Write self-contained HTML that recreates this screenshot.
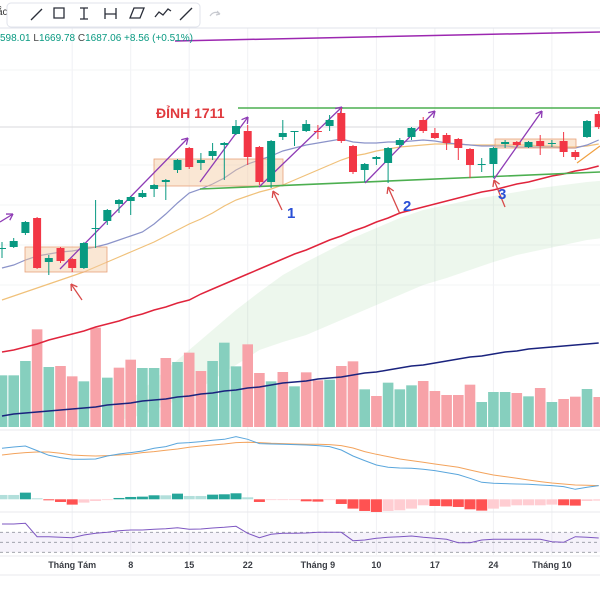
<!DOCTYPE html>
<html><head><meta charset="utf-8"><style>
html,body{margin:0;padding:0;background:#fff;width:600px;height:600px;overflow:hidden}
svg{display:block;font-family:"Liberation Sans",sans-serif}
</style></head><body>
<svg id="chart" width="600" height="600" viewBox="0 0 600 600">
<rect width="600" height="600" fill="#fff"/>
<g id="grid"></g>
<g id="cloud"></g>
<g id="vol"></g>
<g id="mas"></g>
<g id="draw"></g>
<g id="candles"></g>
<g id="macd"></g>
<g id="rsi"></g>
<g id="axis"></g>
<g id="top"></g>
</svg>
<script>
const opens =[1571,1572,1586,1601,1557,1571,1560,1551,1590,1598,1615,1618,1622,1630,1637,1649,1671,1656,1663,1674,1685,1688,1672,1637,1682,1687,1688,1688,1693,1706,1673,1649,1660,1656,1674,1682,1699,1686,1684,1680,1670,1655,1655,1675,1677,1672,1678,1676,1678,1667,1682,1705];
const highs =[1577,1581,1598,1602,1564,1572,1561,1577,1619,1610,1620,1623,1629,1635,1640,1660,1672,1666,1676,1677,1699,1694,1673,1679,1699,1688,1699,1694,1704,1711,1674,1656,1663,1672,1681,1692,1702,1691,1686,1681,1671,1661,1672,1679,1678,1678,1684,1679,1687,1669,1699,1708];
const lows  =[1561,1571,1584,1550,1544,1556,1547,1550,1571,1594,1606,1604,1621,1622,1619,1646,1650,1649,1659,1639,1684,1654,1634,1631,1679,1673,1687,1680,1688,1676,1645,1637,1654,1636,1672,1679,1686,1680,1669,1659,1641,1647,1641,1671,1672,1671,1664,1672,1662,1659,1681,1690];
const closes=[1571,1578,1597,1551,1561,1558,1551,1576,1591,1609,1619,1622,1626,1634,1639,1659,1652,1659,1668,1676,1693,1662,1637,1678,1686,1688,1695,1687,1699,1678,1647,1655,1662,1671,1679,1691,1688,1681,1676,1671,1654,1655,1671,1677,1674,1677,1673,1676,1667,1662,1698,1692];
const volumes=[1550,1550,1980,2930,1800,1830,1520,1370,2980,1480,1780,2020,1770,1770,2070,1950,2230,1680,1980,2530,1820,2480,1620,1370,1650,1220,1640,1400,1420,1830,1970,1130,930,1330,1130,1250,1380,1080,960,960,1270,750,1050,1050,1020,920,1170,750,840,910,1140,900];
const volDir=["u","u","u","d","u","d","d","u","d","u","d","d","u","u","d","u","d","d","u","u","u","d","d","u","d","u","d","d","u","d","d","u","d","u","u","u","d","d","d","d","d","u","u","u","d","u","d","u","d","d","u","d"];
const maFast=[1551,1554,1559,1563,1565,1567,1568,1570,1572,1575,1579,1583,1587,1595,1605,1616,1626,1630,1635,1641,1649,1655,1659,1663,1668,1671,1674,1676,1678,1680,1677,1676,1676,1677,1677,1678,1679,1678,1676,1675,1674,1673,1673,1673,1672,1672,1672,1672,1671,1671,1674,1679];
const maMid=[1519,1523,1527,1531,1535,1539,1543,1547,1552,1557,1562,1567,1572,1577,1583,1589,1595,1600,1606,1613,1619,1623,1627,1630,1634,1639,1644,1649,1654,1659,1663,1665,1668,1670,1672,1673,1674,1675,1675,1675,1674,1674,1674,1674,1674,1674,1673,1673,1672,1672,1673,1675];
const maSlow=[1467,1469,1472,1475,1479,1482,1485,1488,1492,1495,1498,1502,1505,1509,1512,1516,1519,1525,1530,1535,1540,1545,1550,1555,1560,1565,1569,1574,1579,1583,1588,1592,1597,1601,1606,1609,1612,1615,1618,1621,1624,1627,1629,1632,1635,1637,1640,1643,1645,1648,1650,1653];
const ma200=[1403,1405,1406,1407,1408,1409,1410,1411,1412,1414,1415,1416,1418,1419,1420,1422,1423,1425,1426,1428,1429,1431,1432,1434,1436,1437,1438,1440,1441,1442,1444,1446,1447,1449,1451,1453,1454,1456,1458,1460,1462,1463,1465,1467,1468,1470,1471,1472,1473,1474,1475,1476];
const cloudIdx=[10,12,14,16,18,20,22,24,26,28,30,32,34,36,38,40,42,44,46,48,50,52];
const spanA=[1409,1429,1449,1469,1489,1509,1527,1544,1557,1569,1581,1591,1601,1609,1614,1619,1623,1627,1631,1634,1637,1639];
const spanB=[1399,1404,1414,1424,1439,1454,1469,1477,1484,1494,1504,1514,1524,1534,1541,1549,1557,1564,1569,1574,1579,1582];
const macdLine=[15.3,15.7,16.0,14.6,13.2,12.5,12.0,12.0,12.1,13.0,13.6,14.0,14.5,15.3,15.8,16.8,17.0,17.3,17.7,18.0,18.8,18.0,16.7,16.6,16.5,16.4,16.3,16.1,15.8,14.8,13.0,11.6,10.3,9.6,9.4,9.3,9.0,8.6,8.0,7.4,6.3,5.1,4.8,4.7,4.6,4.5,4.3,4.1,3.8,3.0,3.6,4.1];
const signalLine=[13.3,13.7,14.0,14.2,14.2,13.8,13.3,13.1,13.0,13.1,13.3,13.5,14.0,14.3,14.7,15.1,15.6,16.0,16.3,16.6,17.0,17.1,17.0,16.8,16.7,16.6,16.5,16.5,16.4,16.1,15.4,14.3,13.5,12.8,12.1,11.6,11.1,10.6,10.1,9.6,8.8,8.0,7.3,6.8,6.3,5.8,5.3,4.9,4.6,4.3,4.2,4.1];
const histo=[1.3,1.3,2.0,0.3,-0.3,-0.8,-1.6,-1.0,-0.5,-0.2,0.4,0.7,0.8,1.2,1.2,1.7,1.0,1.0,1.4,1.5,1.8,0.6,-0.8,-0.2,-0.2,-0.2,-0.6,-0.7,-0.2,-1.4,-2.8,-3.5,-3.8,-3.5,-3.3,-2.8,-1.8,-2.0,-2.1,-2.3,-3.0,-3.4,-2.8,-2.2,-1.8,-1.8,-1.8,-1.6,-1.8,-1.9,-0.5,-0.4];
const rsiVals=[86.7,86.7,88,61.3,61.3,60,59.3,64.7,68,70,73.3,74.7,74.7,76,77.3,79.3,76,76.7,78.7,80,82,68,59.3,66,68,68,68.7,70,70,70,53.3,54.7,58,60,61.3,62.7,60,58,56,49.3,49.3,54.7,56,56,56,56,56,51.3,50,61.3,60,58.7];
const dateLabels=["Tháng Tám","8","15","22","Tháng 9","10","17","24","Tháng 10"];
const dateIdx=[6,11,16,21,27,32,37,42,47];
const rsiLevels=[70,50,30];

const NS="http://www.w3.org/2000/svg";
function mk(parent,tag,attrs,text){const e=document.createElementNS(NS,tag);for(const k in attrs)e.setAttribute(k,attrs[k]);if(text!==undefined)e.textContent=text;parent.appendChild(e);return e;}
const X=i=>2+11.7*i;
const Y=p=>1819-p;
const VY=v=>427-v/30;
const MY=v=>499.3-v*10/3;
const RY=r=>532.33-(r-70)*0.5;
const $=id=>document.getElementById(id);
const GREEN="#089981",RED="#f23645";

// grid
const grid=$("grid");
dateIdx.forEach(i=>{const l=mk(grid,"line",{x1:X(i),x2:X(i),y1:28,y2:555,stroke:"#f0f1f4","stroke-width":1});

});
[70,165,205,245,285].forEach(y=>{const l=mk(grid,"line",{x1:0,x2:600,y1:y,y2:y,stroke:"#f3f4f6"});

});
const pl=mk(grid,"line",{x1:0,x2:600,y1:127,y2:127,stroke:"#d9dadd"});


[430,512,556,575].forEach(y=>{const l=mk(grid,"line",{x1:0,x2:600,y1:y,y2:y,stroke:"#e8e9ec"});

});

// cloud
let pts=cloudIdx.map((i,k)=>X(i)+","+Y(spanA[k]));
for(let k=cloudIdx.length-1;k>=0;k--)pts.push(X(cloudIdx[k])+","+Y(spanB[k]));
const cl=mk($("cloud"),"polygon",{points:pts.join(" "),fill:"#4caf50","fill-opacity":0.1});



// volume
const vg=$("vol");
volumes.forEach((v,i)=>{const r=mk(vg,"rect",{x:X(i)-5.3,y:VY(v),width:10.6,height:427-VY(v),fill:volDir[i]==="u"?"#86cfbe":"#f7a2a8"});

});

// MAs
function line(g,arr,color,w,name,yf){const d=arr.map((v,i)=>(i?"L":"M")+X(i).toFixed(1)+","+yf(v).toFixed(1)).join("");const p=mk(g,"path",{d:d,fill:"none",stroke:color,"stroke-width":w});

return p;}
const mg=$("mas");
line(mg,ma200,"#1a237e",1.5,"ma200-line",Y);
line(mg,maSlow,"#e0243c",1.5,"ma50-line",Y);
line(mg,maMid,"#f0c17a",1.2,"ma20-line",Y);
line(mg,maFast,"#8b93c9",1.2,"ma10-line",Y);

// drawings
const dg=$("draw");
function dl(x1,y1,x2,y2,c,w,name){const l=mk(dg,"line",{x1,y1,x2,y2,stroke:c,"stroke-width":w});

return l;}
[[25,247,82,25],[154,159,129,27],[495,139,81,9]].forEach(b=>{const r=mk(dg,"rect",{x:b[0],y:b[1],width:b[2],height:b[3],fill:"#f5c9a0","fill-opacity":0.45,stroke:"#e8a27a","stroke-width":0.8});

});
dl(238,108,600,108,"#4caf50",1.6,"resistance-line");
dl(200,189,600,172,"#4caf50",1.6,"support-line");
dl(175,41,600,32,"#9c27b0",1.5,"purple-trend-line");
function arrow(x1,y1,x2,y2,c,name){dl(x1,y1,x2,y2,c,1.3,name);const a=Math.atan2(y2-y1,x2-x1),L=7;
[a+2.6,a-2.6].forEach(b=>{const h=mk(dg,"line",{x1:x2,y1:y2,x2:x2+L*Math.cos(b),y2:y2+L*Math.sin(b),stroke:c,"stroke-width":1.3});

});}
const P="#8e3bb5";
arrow(0,222,13,214,P,"purple-arrow");
arrow(60,269,188,138,P,"purple-arrow");
arrow(200,182,248,117,P,"purple-arrow");
arrow(259,187,342,107,P,"purple-arrow");
arrow(365,183,435,111,P,"purple-arrow");
arrow(494,179,542,111,P,"purple-arrow");
dl(577,163,600,146,"#f0a040",1.2,"orange-line");
const R="#d84a4a";
arrow(82,300,71,284,R,"red-arrow");
arrow(282,210,273,191,R,"red-arrow-1");
arrow(400,214,388,187,R,"red-arrow-2");
arrow(505,207,494,180,R,"red-arrow-3");
[["1",287,218],["2",403,211],["3",498,199]].forEach(t=>{const e=mk(dg,"text",{x:t[1],y:t[2],fill:"#2a4fd6","font-size":15,"font-weight":"bold"},t[0]);

});
const pk=mk(dg,"text",{x:156,y:118,fill:"#e03a3e","font-size":14,"font-weight":"bold"},"ĐỈNH 1711");



// candles
const cg=$("candles");
opens.forEach((o,i)=>{const c=closes[i],col=c>=o?GREEN:RED,x=X(i);
const w=mk(cg,"line",{x1:x,x2:x,y1:Y(highs[i]),y2:Y(lows[i]),stroke:col,"stroke-width":1});


const top=Y(Math.max(o,c)),h=Math.max(1,Math.abs(o-c));
const b=mk(cg,"rect",{x:x-4,y:top,width:8,height:h,fill:col});

});

// MACD
const mcg=$("macd");
histo.forEach((v,i)=>{const prev=i?histo[i-1]:v;let col;
if(v>=0)col=v>prev?"#26a69a":"#b2dfdb";else col=v<prev?"#ff5252":"#ffcdd2";
const y0=MY(0),y1=MY(v);
const r=mk(mcg,"rect",{x:X(i)-5.5,y:Math.min(y0,y1),width:11,height:Math.max(0.8,Math.abs(y1-y0)),fill:col});

});
line(mcg,signalLine,"#f3a35c",1,"macd-signal-line",MY);
line(mcg,macdLine,"#5aa6dc",1,"macd-line",MY);

// RSI
const rg=$("rsi");
const band=mk(rg,"rect",{x:0,y:RY(70),width:600,height:RY(30)-RY(70),fill:"#7e57c2","fill-opacity":0.08});


rsiLevels.forEach(l=>{const e=mk(rg,"line",{x1:0,x2:600,y1:RY(l),y2:RY(l),stroke:"#9598a1","stroke-dasharray":"3,3","stroke-width":0.8});

});
line(rg,rsiVals,"#7e57c2",1,"rsi-line",RY);

// axis
const ag=$("axis");
dateLabels.forEach((t,k)=>{const e=mk(ag,"text",{x:X(dateIdx[k]),y:568,"text-anchor":"middle","font-size":9,"font-weight":"bold",fill:"#3a3d44"},t);

});

// top bar
const tg=$("top");
const tl=mk(tg,"line",{x1:0,x2:600,y1:28,y2:28,stroke:"#e0e3eb"});


const cut=mk(tg,"text",{x:-3,y:15,"font-size":10,fill:"#333"},"ắc");


const tb=mk(tg,"rect",{x:7,y:3,width:193,height:24,rx:4,fill:"#fff",stroke:"#e0e3eb"});


const icons=["M31,20 L42,9","M54,8 h10 v10 h-10z","M80,8 h8 M84,8 v11 M80,19 h8","M105,8 v11 M105,14 h11 M116,8 v11","M130,18 l4,-10 h10 l-4,10z","M155,17 l4,-5 4,3 5,-6 3,2","M180,20 l12,-12"];
const iconNames=["trend-line-tool","rectangle-tool","text-tool","range-tool","channel-tool","path-tool","brush-tool"];
icons.forEach((d,k)=>{const e=mk(tg,"path",{d:d,fill:"none",stroke:"#2a2e39","stroke-width":1.3});

});
const rd=mk(tg,"path",{d:"M210,16 q4,-6 10,-2 M220,14 l-3,-3 M220,14 l-4,1",fill:"none",stroke:"#c8cad0","stroke-width":1.2});


const ohlc=mk(tg,"text",{x:0,y:41,"font-size":10,fill:"#089981"});


ohlc.innerHTML='598.01 <tspan fill="#444">L</tspan>1669.78 <tspan fill="#444">C</tspan>1687.06 +8.56 (+0.51%)';
</script>
</body></html>
